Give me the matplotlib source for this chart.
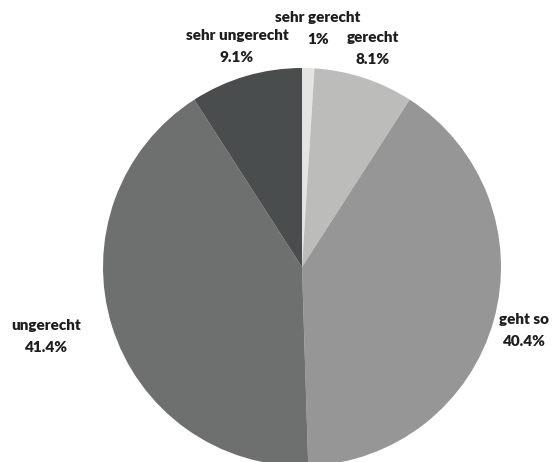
import matplotlib.pyplot as plt

# survey answers, clockwise from 12 o'clock
labels = ["sehr gerecht", "gerecht", "geht so", "ungerecht", "sehr ungerecht"]
shares = [1.0, 8.1, 40.4, 41.4, 9.1]
pct_text = ["1%", "8.1%", "40.4%", "41.4%", "9.1%"]
colors = ["#e4e4e2", "#bcbcba", "#959695", "#6e706f", "#4a4d4e"]

W, H = 554, 462
fig = plt.figure(figsize=(W / 100, H / 100), dpi=100)

# pie: center (302, 267) px, radius 199 px
cx, cy, r = 302, 267, 199
ax = fig.add_axes([(cx - r) / W, (H - cy - r) / H, 2 * r / W, 2 * r / H])
ax.pie(shares, colors=colors, startangle=90, counterclock=False, radius=1,
       wedgeprops=dict(linewidth=0))
ax.set_xlim(-1, 1)
ax.set_ylim(-1, 1)
ax.set_aspect("equal")
ax.axis("off")

# label anchor points in pixels (name line, value line below)
label_pos = [(318, 17), (373, 37), (524, 320), (46, 325), (237, 35)]
for name, pct, (x, y) in zip(labels, pct_text, label_pos):
    fig.text(x / W, 1 - y / H, name, ha="center", va="center",
             fontsize=11, fontweight="heavy", family="Lato", color="#1e1e1e")
    fig.text(x / W, 1 - (y + 22) / H, pct, ha="center", va="center",
             fontsize=11, fontweight="heavy", family="Lato", color="#1e1e1e")

fig.savefig("out.png", dpi=100, facecolor="white")
